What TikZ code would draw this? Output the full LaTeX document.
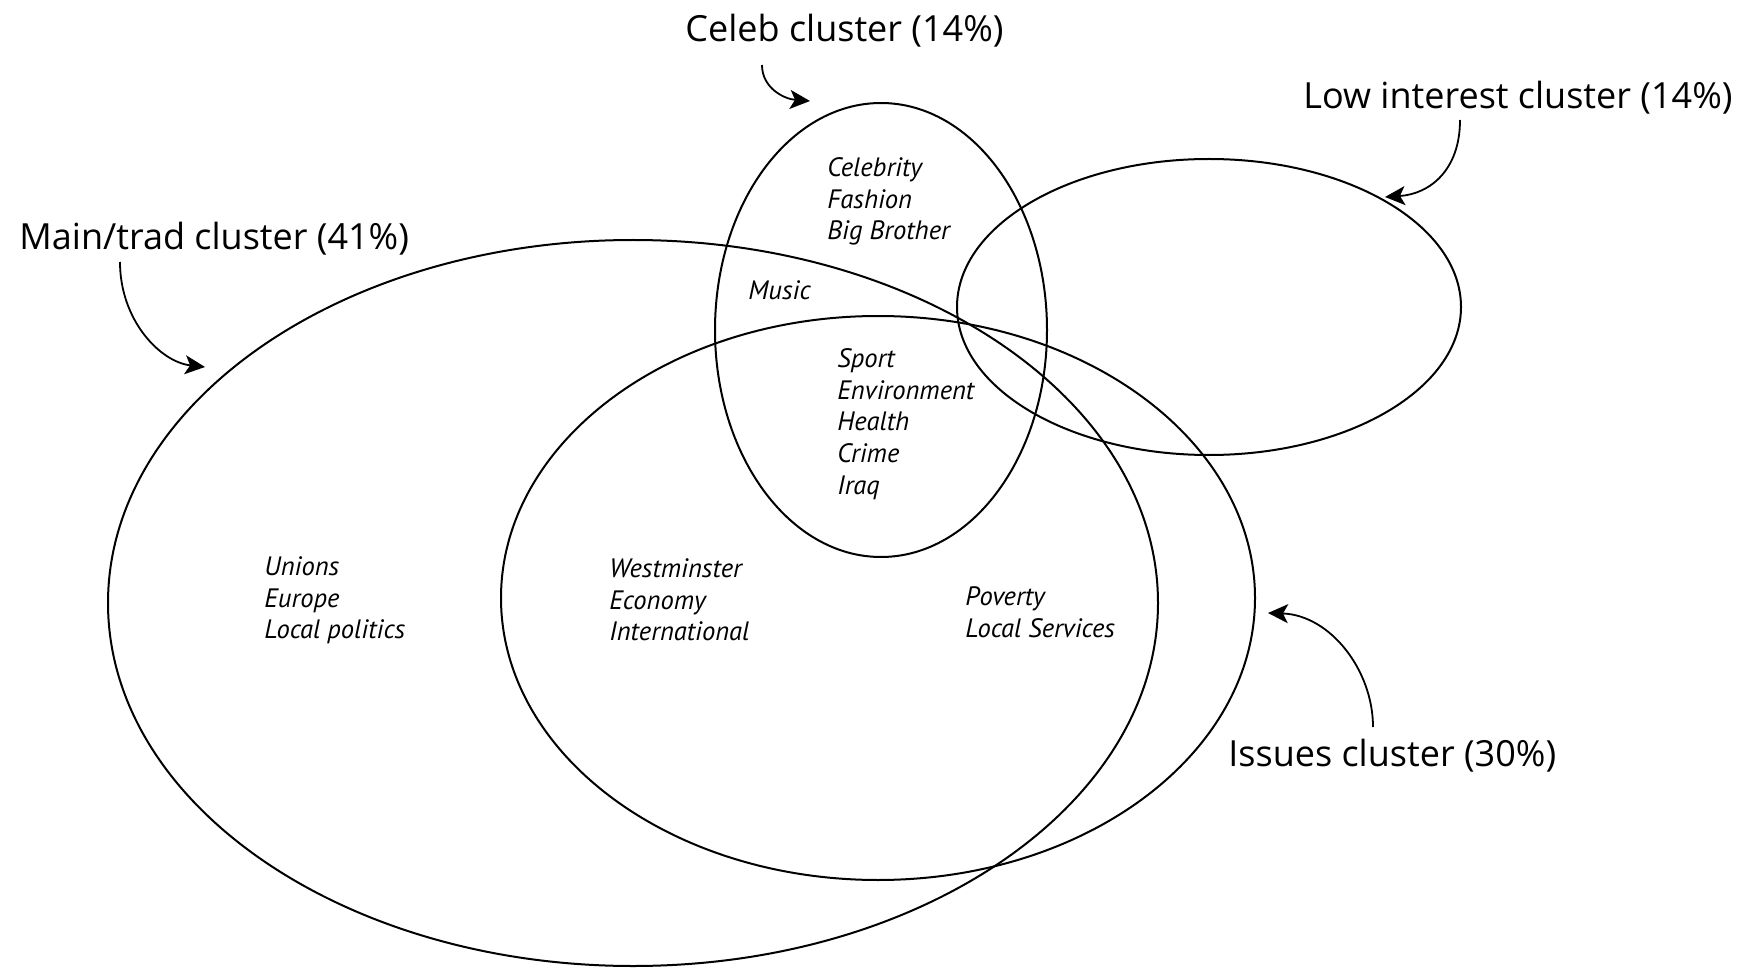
\documentclass[tikz,border=0pt]{standalone}
\usepackage{fontspec}
\setmainfont{PT Sans}
\newfontfamily\labelfont{Open Sans}
\usepackage{tikz}
\usetikzlibrary{arrows.meta, positioning}

\tikzset{
  cluster/.style={line width=1pt},
  clusterlabel/.style={anchor=west, inner sep=0pt, font=\labelfont\fontsize{18}{21}\selectfont},
  topics/.style={anchor=north west, inner sep=0pt, align=left, font=\itshape\fontsize{13.3}{15.9}\selectfont},
  pointer/.style={line width=0.9pt, -{Stealth[length=10pt,width=9.5pt,inset=2.5pt]}}
}

\begin{document}
\begin{tikzpicture}[x=0.5pt, y=-0.5pt]
  \useasboundingbox (0,0) rectangle (1746,968);
  % cluster centres
  \coordinate (maintrad) at (633,603);
  \coordinate (issues) at (878,598);
  \coordinate (celeb) at (881,330);
  \coordinate (lowint) at (1209,307);
  % the four clusters
  \draw[cluster] (maintrad) ellipse [x radius=525, y radius=363];
  \draw[cluster] (issues) ellipse [x radius=377, y radius=282];
  \draw[cluster] (celeb) ellipse [x radius=166, y radius=227];
  \draw[cluster] (lowint) ellipse [x radius=252, y radius=148];
  % cluster names
  \node[clusterlabel] (celeblbl) at (685,31) {Celeb cluster (14\%)};
  \node[clusterlabel] (lowintlbl) at (1303,98) {Low interest cluster (14\%)};
  \node[clusterlabel] (maintradlbl) at (19,239) {Main/trad cluster (41\%)};
  \node[clusterlabel] (issueslbl) at (1228,756) {Issues cluster (30\%)};
  % topics in each region
  \node[topics] (celebtopics) at (827,157) {Celebrity\\Fashion\\Big Brother};
  \node[topics] (music) at (748,280) {Music};
  \node[topics] (sharedtopics) at (837,348) {Sport\\Environment\\Health\\Crime\\Iraq};
  \node[topics] (maintopics) at (264,556) {Unions\\Europe\\Local politics};
  \node[topics] (coretopics) at (609,558) {Westminster\\Economy\\International};
  \node[topics] (issuetopics) at (965,586) {Poverty\\Local Services};
  % pointer ends
  \coordinate (celebfrom) at (762,65);
  \coordinate (celebto) at (810,101);
  \coordinate (lowintfrom) at (1460,120);
  \coordinate (lowintto) at (1385,197);
  \coordinate (maintradfrom) at (120,262);
  \coordinate (maintradto) at (205,367);
  \coordinate (issuesfrom) at (1373,727);
  \coordinate (issuesto) at (1268,613);
  % pointers from names to clusters
  \draw[pointer] (celebfrom) .. controls (762,88) and (784,99) .. (celebto);
  \draw[pointer] (lowintfrom) .. controls (1460,170) and (1430,194) .. (lowintto);
  \draw[pointer] (maintradfrom) .. controls (120,320) and (160,362) .. (maintradto);
  \draw[pointer] (issuesfrom) .. controls (1373,670) and (1330,615) .. (issuesto);
\end{tikzpicture}
\end{document}
